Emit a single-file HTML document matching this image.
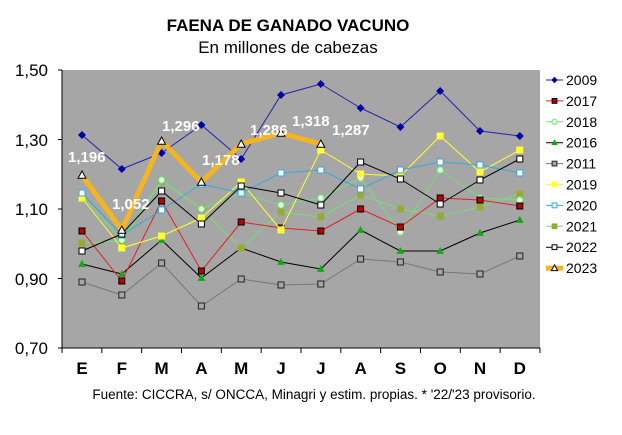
<!DOCTYPE html>
<html><head><meta charset="utf-8"><style>
body{margin:0;background:#fff;}
svg{display:block;font-family:"Liberation Sans",Arial,sans-serif;}
</style></head><body>
<svg width="622" height="435" viewBox="0 0 622 435">
<rect width="622" height="435" fill="#fff"/>
<text x="288" y="31" text-anchor="middle" font-size="17" font-weight="bold">FAENA DE GANADO VACUNO</text>
<text x="288" y="53" text-anchor="middle" font-size="17">En millones de cabezas</text>
<rect x="62" y="70" width="478" height="278" fill="#a6a6a6"/>
<g stroke="#000" stroke-width="1">
<line x1="62" y1="70" x2="62" y2="348"/>
<line x1="62" y1="348" x2="540" y2="348"/>
<line x1="58" y1="70" x2="62" y2="70"/><line x1="58" y1="139.5" x2="62" y2="139.5"/><line x1="58" y1="209" x2="62" y2="209"/><line x1="58" y1="278.5" x2="62" y2="278.5"/><line x1="58" y1="348" x2="62" y2="348"/>
</g>
<g stroke="#000" id="xt"></g>
<g font-size="17" text-anchor="end">
<text x="48" y="76">1,50</text><text x="48" y="146">1,30</text><text x="48" y="215">1,10</text><text x="48" y="285">0,90</text><text x="48" y="354">0,70</text>
</g>
<g font-size="17" font-weight="bold" text-anchor="middle" id="xl"></g>
<text x="314" y="399" text-anchor="middle" font-size="13.5">Fuente: CICCRA, s/ ONCCA, Minagri y estim. propias. * '22/'23 provisorio.</text>
<g id="series"></g>
<g id="legend"></g>
</svg>
<script>
var ns="http://www.w3.org/2000/svg";
function el(p,t,a,txt){var e=document.createElementNS(ns,t);for(var k in a)e.setAttribute(k,a[k]);if(txt)e.textContent=txt;p.appendChild(e);return e;}
var X=[];for(var i=0;i<12;i++)X.push(82+i*39.8);
var xt=document.getElementById('xt');for(var i=0;i<=12;i++){var x=62+i*39.83;el(xt,'line',{x1:x,y1:348,x2:x,y2:353});}
var xl=document.getElementById('xl');"EFMAMJJASOND".split('').forEach(function(c,i){el(xl,'text',{x:X[i],y:374},c);});
var S=[
["2011","#777","#222","sq",1,[282,295,263,306,279,285,284,259,262,272,274,256],"#a6a6a6"],
["2016","#000","#1a1","tri",1,[264,274,240,278,248,262,269,230,251,251,233,220],"#1a1"],
["2021","#7d7","#9a3","sq",1,[243,241,181,209,248,212,217,195,209,216,207,194],"#9a3"],
["2018","#7d7","#7d7","circ",1,[196,240,180,209,193,205,198,178,232,170,198,200],"#dfd"],
["2017","#d22","#000","sq",1,[231,281,201,271,222,228,231,209,227,198,200,206],"#b00"],
["2019","#ff3","#ff3","sq",1,[198,248,236,218,182,230,150,174,176,136,172,150],"#ff3"],
["2020","#3ad","#3ad","sq",1,[193,235,210,184,193,173,170,189,170,162,165,173],"#fff"],
["2022","#000","#000","sq",1,[251,234,191,224,186,193,205,162,179,204,180,159],"#fff"],
["2009","#22a","#00a","dia",1,[135,169,153,125,159,95,84,108,127,91,131,136],"#00a"],
["2023","#f5b520","#000","tri",5,[175,230,141,182,144,133,144],"#fff"]
];
var g=document.getElementById('series');
function marker(p,t,x,y,fill,stroke,k){k=k||1;
 if(t=="sq")el(p,'rect',{x:x-3*k,y:y-3*k,width:6*k,height:6*k,fill:fill,stroke:stroke,'stroke-width':1});
 else if(t=="circ")el(p,'circle',{cx:x,cy:y,r:3.2*k,fill:fill,stroke:stroke,'stroke-width':1});
 else if(t=="dia")el(p,'polygon',{points:(x)+','+(y-4*k)+' '+(x+4*k)+','+y+' '+x+','+(y+4*k)+' '+(x-4*k)+','+y,fill:fill});
 else if(t=="tri"){var s=(stroke=="#000"&&fill=="#fff"?4:3)*k;el(p,'polygon',{points:x+','+(y-s)+' '+(x+s)+','+(y+s*0.8)+' '+(x-s)+','+(y+s*0.8),fill:fill,stroke:stroke,'stroke-width':1});}
}
S.forEach(function(s){
 var pts=s[5].map(function(y,i){return X[i]+','+y;}).join(' ');
 el(g,'polyline',{points:pts,fill:'none',stroke:s[1],'stroke-width':s[4],'stroke-linejoin':'round'});
 s[5].forEach(function(y,i){marker(g,s[3],X[i],y,s[6],s[2]);});
});
var lab=[["1,196",68,162],["1,052",112,209],["1,296",162,131],["1,178",202,165],["1,286",250,135],["1,318",292,126],["1,287",332,135]];
lab.forEach(function(l){el(g,'text',{x:l[1],y:l[2],'font-size':15,'font-weight':'bold',fill:'#fff'},l[0]);});
var lg=document.getElementById('legend');
var order=["2009","2017","2018","2016","2011","2019","2020","2021","2022","2023"];
order.forEach(function(n,i){var s=S.filter(function(q){return q[0]==n;})[0];var y=80+i*20.9;
 el(lg,'line',{x1:546,y1:y,x2:563,y2:y,stroke:s[1],'stroke-width':s[4]});
 marker(lg,s[3],554.5,y,s[6],s[2],0.8);
 el(lg,'text',{x:566,y:y+5,'font-size':14},n);});
</script>
</body></html>
